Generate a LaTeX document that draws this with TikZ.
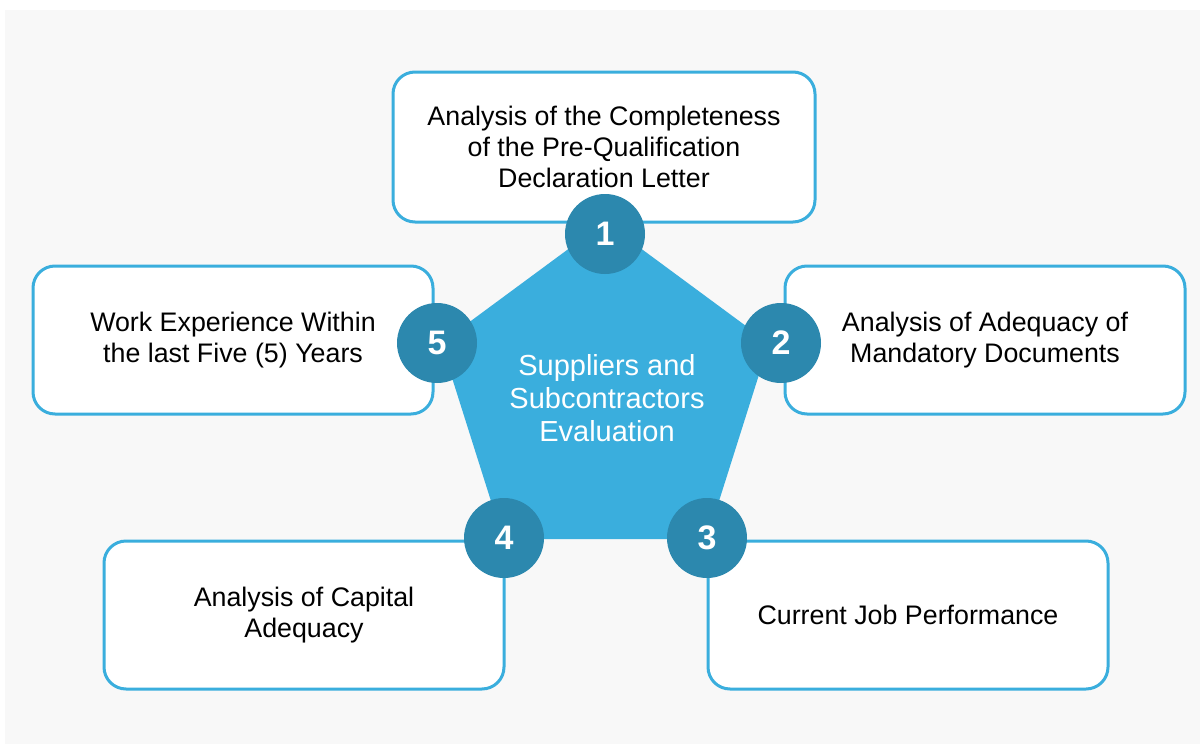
\documentclass[tikz,border=0pt]{standalone}
\usepackage{fontspec}
\setmainfont{Liberation Sans}
\usetikzlibrary{shapes.geometric}
\definecolor{bgGray}{HTML}{F8F8F8}
\definecolor{lightBlue}{HTML}{3AAEDD}
\definecolor{darkBlue}{HTML}{2C88AE}
\tikzset{
  infobox/.style={draw=lightBlue, line width=1.5pt, fill=white, rounded corners=11pt,
    minimum width=200pt, minimum height=74pt, align=center, inner sep=0pt,
    font=\fontsize{13.4}{15.5}\selectfont, text=black},
  numdot/.style={circle, fill=darkBlue, minimum size=40pt, inner sep=0pt,
    text=white, font=\fontsize{17}{19}\selectfont\bfseries},
  centertext/.style={align=center, text=white, font=\fontsize{14.5}{16.5}\selectfont}
}
\begin{document}
\begin{tikzpicture}[x=0.5pt,y=-0.5pt]
\useasboundingbox (0,0) rectangle (1200,744);
\fill[white] (0,0) rectangle (1200,744);
\fill[bgGray] (5,10) rectangle (1200,744);
% boxes
\node[infobox, minimum width=211pt, minimum height=75pt] (b1) at (604,147) {Analysis of the Completeness\\of the Pre-Qualification\\Declaration Letter};
\node[infobox] (b2) at (985,340) {Analysis of Adequacy of\\Mandatory Documents};
\node[infobox] (b3) at (908,615) {Current Job Performance};
\node[infobox] (b4) at (304,615) {Analysis of Capital\\Adequacy};
\node[infobox] (b5) at (233,340) {Work Experience Within\\the last Five (5) Years};
% pentagon
\fill[lightBlue] (605,222) -- (769,343) -- (707,539) -- (503,539) -- (441,343) -- cycle;
\node[centertext] (center) at (607,398) {Suppliers and\\Subcontractors\\Evaluation};
% numbered circles
\node[numdot] (c1) at (605,234) {1};
\node[numdot] (c2) at (781,343) {2};
\node[numdot] (c3) at (707,538) {3};
\node[numdot] (c4) at (504,538) {4};
\node[numdot] (c5) at (437,343) {5};
\end{tikzpicture}
\end{document}
